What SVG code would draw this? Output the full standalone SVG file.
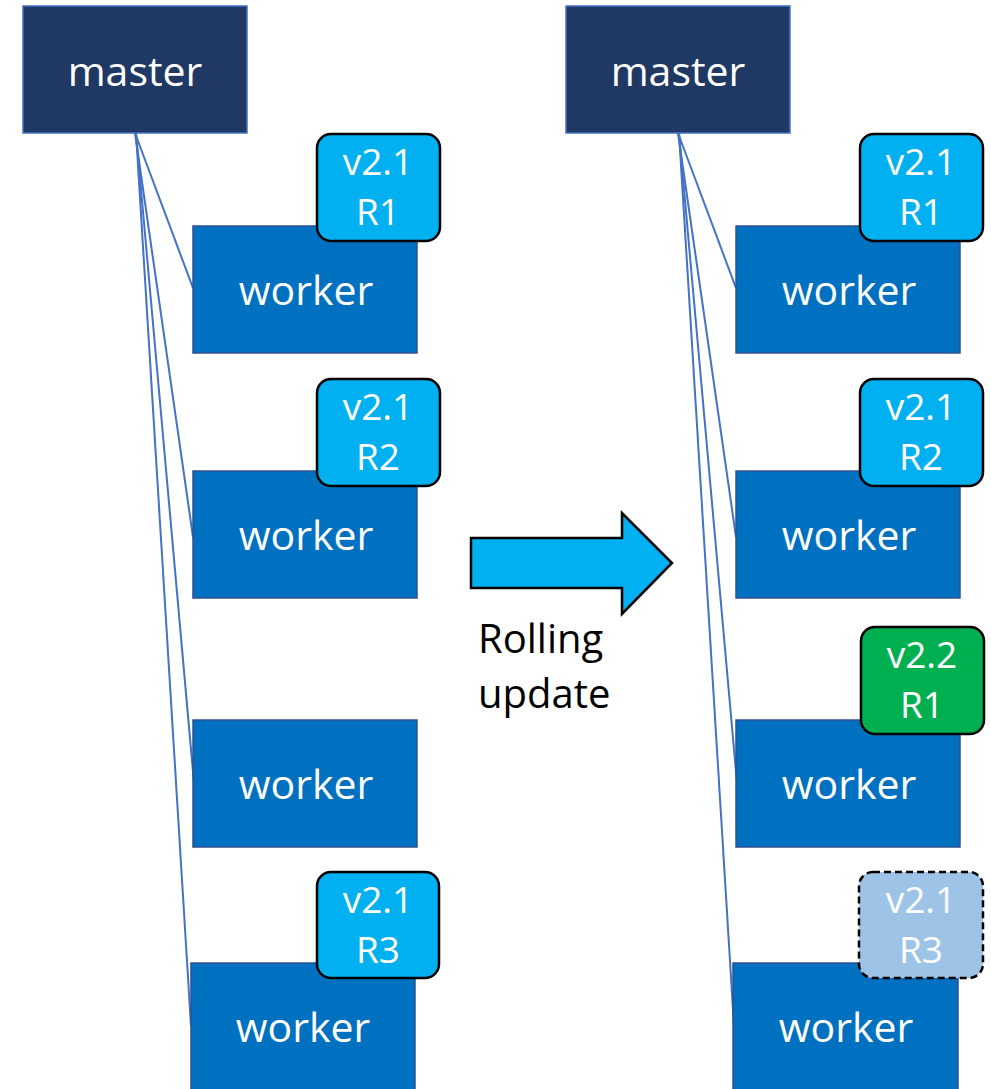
<svg xmlns="http://www.w3.org/2000/svg" width="991" height="1089" viewBox="0 0 991 1089">
<style>
.master{fill:#203864;stroke:#4472c4;stroke-width:1.5}
.worker{fill:#0070c0;stroke:#2f528f;stroke-width:1.5}
.badge{fill:#00b0f0;stroke:#000;stroke-width:2.5}
.badge-new{fill:#00b050;stroke:#000;stroke-width:2.5}
.badge-old{fill:#9dc3e6;stroke:#000;stroke-width:2.5;stroke-dasharray:7 4}
.conn{stroke:#4472c4;stroke-width:2;fill:none}
.t{font-family:"Open Sans","Liberation Sans",sans-serif;fill:#fff;text-anchor:middle}
.big{font-size:41px}
.small{font-size:37px}
.label{font-family:"Open Sans","Liberation Sans",sans-serif;font-size:40px;fill:#000}
</style>
<g id="connectors">
<line class="conn" x1="135" y1="133" x2="193" y2="288"/>
<line class="conn" x1="135" y1="133" x2="193" y2="537"/>
<line class="conn" x1="136" y1="133" x2="194" y2="783"/>
<line class="conn" x1="136" y1="133" x2="191" y2="1026"/>
<line class="conn" x1="678" y1="133" x2="736" y2="288"/>
<line class="conn" x1="678" y1="133" x2="736" y2="537"/>
<line class="conn" x1="679" y1="133" x2="737" y2="783"/>
<line class="conn" x1="679" y1="133" x2="734" y2="1026"/>
</g>
<g id="master-left"><rect class="master" x="23" y="6" width="224" height="127"/><text class="t big" x="135" y="86">master</text></g>
<g id="worker-l1"><rect class="worker" x="193" y="226" width="224" height="127"/><text class="t big" x="306" y="305">worker</text></g>
<g id="worker-l2"><rect class="worker" x="193" y="471" width="224" height="127"/><text class="t big" x="306" y="550">worker</text></g>
<g id="worker-l3"><rect class="worker" x="193" y="720" width="224" height="127"/><text class="t big" x="306" y="799">worker</text></g>
<g id="worker-l4"><rect class="worker" x="191" y="963" width="224" height="140"/><text class="t big" x="303" y="1042">worker</text></g>
<g id="badge-l1"><rect class="badge" x="317" y="134" width="123" height="107" rx="14"/><text class="t small" x="378" y="175">v2.1</text><text class="t small" x="378" y="225">R1</text></g>
<g id="badge-l2"><rect class="badge" x="317" y="379" width="123" height="107" rx="14"/><text class="t small" x="378" y="420">v2.1</text><text class="t small" x="378" y="470">R2</text></g>
<g id="badge-l3"><rect class="badge" x="317" y="872" width="122" height="106" rx="14"/><text class="t small" x="378" y="913">v2.1</text><text class="t small" x="378" y="963">R3</text></g>

<g id="arrow"><path d="M471,538 H622 V513 L672,563 L622,614 V588 H471 Z" fill="#00b0f0" stroke="#000" stroke-width="2.5" stroke-linejoin="miter"/></g>
<g id="arrow-label"><text class="label" x="478" y="653">Rolling</text><text class="label" x="478" y="708">update</text></g>

<g id="master-right"><rect class="master" x="566" y="6" width="224" height="127"/><text class="t big" x="678" y="86">master</text></g>
<g id="worker-r1"><rect class="worker" x="736" y="226" width="224" height="127"/><text class="t big" x="849" y="305">worker</text></g>
<g id="worker-r2"><rect class="worker" x="736" y="471" width="224" height="127"/><text class="t big" x="849" y="550">worker</text></g>
<g id="worker-r3"><rect class="worker" x="736" y="720" width="224" height="127"/><text class="t big" x="849" y="799">worker</text></g>
<g id="worker-r4"><rect class="worker" x="733" y="963" width="225" height="140"/><text class="t big" x="846" y="1042">worker</text></g>
<g id="badge-r1"><rect class="badge" x="860" y="134" width="123" height="107" rx="14"/><text class="t small" x="921" y="175">v2.1</text><text class="t small" x="921" y="225">R1</text></g>
<g id="badge-r2"><rect class="badge" x="860" y="379" width="123" height="107" rx="14"/><text class="t small" x="921" y="420">v2.1</text><text class="t small" x="921" y="470">R2</text></g>
<g id="badge-r3new"><rect class="badge-new" x="861" y="627" width="123" height="107" rx="14"/><text class="t small" x="922" y="668">v2.2</text><text class="t small" x="922" y="718">R1</text></g>
<g id="badge-r4old"><rect class="badge-old" x="859" y="872" width="124" height="106" rx="14"/><text class="t small" x="921" y="913">v2.1</text><text class="t small" x="921" y="963">R3</text></g>
</svg>
